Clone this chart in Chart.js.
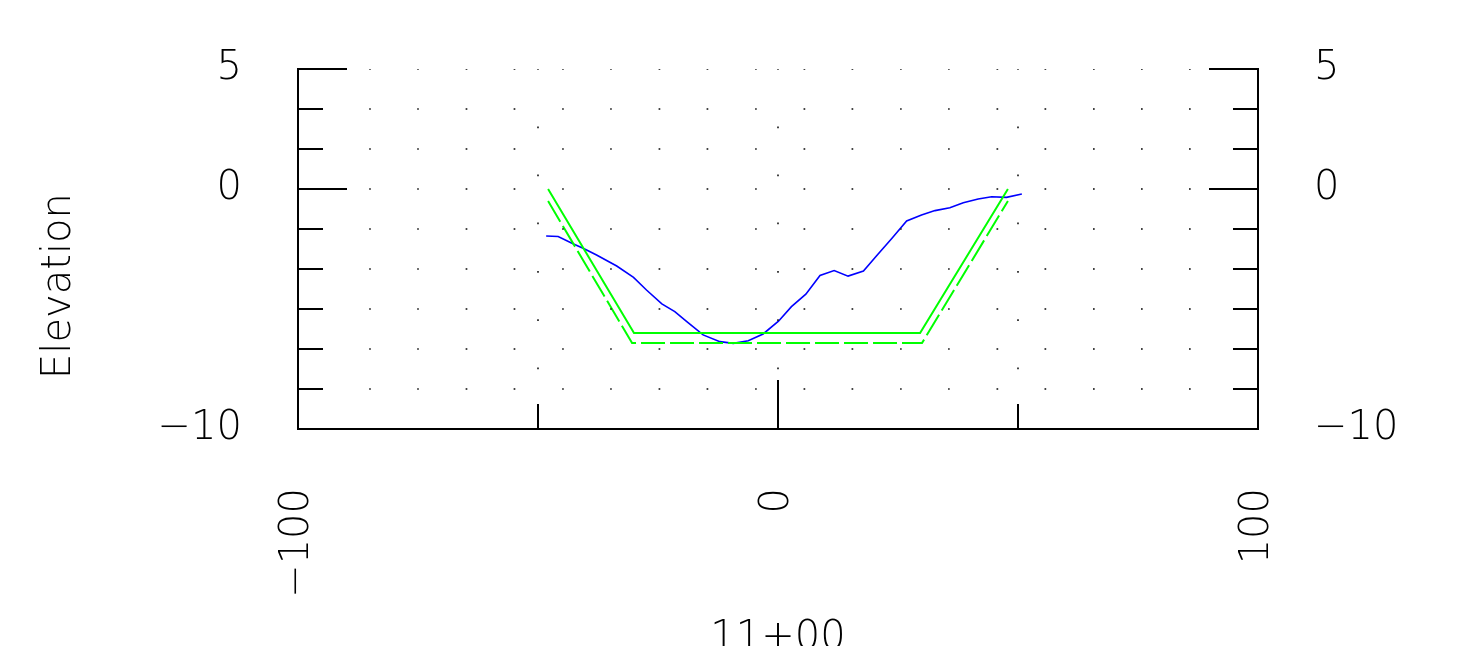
<!DOCTYPE html>
<html><head><meta charset="utf-8">
<script src="https://cdn.jsdelivr.net/npm/chart.js@4"></script>
<style>html,body{margin:0;padding:0;background:#fff;overflow:hidden}#wrap{width:1473px;height:646px;position:relative}</style>
</head><body><div id="wrap"><canvas id="c" width="1473" height="646"></canvas></div>
<script>
// ---- axis ticks ----
const xLabelTicks = [-100, 0, 100];
const xTickMarks = [-50, 0, 50];
const xLongTicks = [0];
const yLabelTicks = [5, 0, -10];
const yTickMarks = [5, 3.333, 1.667, 0, -1.667, -3.333, -5, -6.667, -8.333];
const yLongTicks = [5, 0];

// ---- dotted grid ----
const gridAX = [-85, -75, -64.9, -54.9, -44.8, -34.8, -24.7, -14.7, -4.6, 5.5, 15.5, 25.6, 35.6, 45.7, 55.7, 65.8, 75.8, 85.8];
const gridAY = [5, 3.333, 1.667, 0, -1.667, -3.333, -5, -6.667, -8.333];
const gridBX = [-50, 0, 50];
const gridBY = [5, 2.57, 0.57, -1.43, -3.45, -5.46, -7.47];

// ---- design section (solid green) ----
const designX = [-47.9, -30, 29.6, 47.9];
const designY = [0, -6, -6, 0];
// ---- offset section (dashed green) ----
const offsetX = [-47.9, -30.4, 30.0, 47.9];
const offsetY = [-0.5, -6.42, -6.42, -0.5];
// ---- existing ground (blue) ----
const groundX = [-48.3, -45.8, -42.6, -40.6, -37.8, -33.6, -30.1, -27.4, -24.2, -21.5, -19.0, -15.6, -12.1, -9.3, -6.2, -3.1, 0.1, 2.8, 5.8, 8.75, 11.7, 14.6, 17.8, 20.5, 23.7, 26.8, 29.9, 32.7, 35.8, 38.6, 41.7, 44.5, 47.6, 50.8];
const groundY = [-1.96, -1.98, -2.29, -2.47, -2.75, -3.21, -3.68, -4.21, -4.79, -5.11, -5.53, -6.08, -6.36, -6.43, -6.32, -6.04, -5.51, -4.9, -4.38, -3.6, -3.4, -3.63, -3.42, -2.79, -2.06, -1.33, -1.08, -0.9, -0.78, -0.57, -0.42, -0.32, -0.35, -0.21];

const xTitle = '11+00';
const yTitle = 'Elevation';

const FONT_FAMILY = "'DejaVu Sans', sans-serif";
const FONT = {family: FONT_FAMILY, size: 40, weight: 200};

const zip = (xs, ys) => xs.map((x, i) => ({x, y: ys[i]}));
const gridPts = [];
gridAX.forEach(x => gridAY.forEach(y => gridPts.push({x, y})));
gridBX.forEach(x => gridBY.forEach(y => gridPts.push({x, y})));

const fmt = v => (v < 0 ? '\u2212' + Math.abs(v) : String(v));
const noPad = s => { s.paddingTop = 0; s.paddingBottom = 0; s.paddingLeft = 0; s.paddingRight = 0; };

const framePlugin = {
  id: 'frame',
  afterDatasetsDraw(chart) {
    const {ctx, scales: {x, y}} = chart;
    const L = x.getPixelForValue(-100), R = x.getPixelForValue(100);
    const T = y.getPixelForValue(5), B = y.getPixelForValue(-10);
    ctx.save();
    ctx.strokeStyle = '#000';
    ctx.lineWidth = 2;
    ctx.lineCap = 'square';
    ctx.beginPath();
    ctx.moveTo(L, T); ctx.lineTo(L, B); ctx.lineTo(R, B); ctx.lineTo(R, T);
    yTickMarks.forEach(v => {
      const p = y.getPixelForValue(v);
      const len = yLongTicks.includes(v) ? 48 : 24;
      ctx.moveTo(L, p); ctx.lineTo(L + len, p);
      ctx.moveTo(R, p); ctx.lineTo(R - len, p);
    });
    xTickMarks.forEach(v => {
      const p = x.getPixelForValue(v);
      const len = xLongTicks.includes(v) ? 48 : 24;
      ctx.moveTo(p, B); ctx.lineTo(p, B - len);
    });
    ctx.stroke();
    ctx.restore();
  },
  afterDraw(chart) {
    const {ctx} = chart;
    ctx.save();
    ctx.fillStyle = '#000';
    ctx.font = '200 40px ' + FONT_FAMILY;
    ctx.textAlign = 'center';
    ctx.textBaseline = 'middle';
    ctx.translate(60, 286);
    ctx.rotate(-Math.PI / 2);
    ctx.fillText(yTitle, 0, 0);
    ctx.restore();
  }
};

new Chart(document.getElementById('c'), {
  type: 'scatter',
  data: {
    datasets: [
      {label: 'grid', data: gridPts, pointStyle: 'rect', pointRadius: 1.2, pointBackgroundColor: '#222', pointBorderWidth: 0, showLine: false},
      {label: 'design', data: zip(designX, designY), showLine: true, borderColor: '#00ff00', borderWidth: 2, pointRadius: 0, fill: false, tension: 0},
      {label: 'offset', data: zip(offsetX, offsetY), showLine: true, borderColor: '#00ff00', borderWidth: 2, borderDash: [24, 5], pointRadius: 0, fill: false, tension: 0},
      {label: 'ground', data: zip(groundX, groundY), showLine: true, borderColor: '#0000ff', borderWidth: 1.6, pointRadius: 0, fill: false, tension: 0}
    ]
  },
  options: {
    responsive: false,
    animation: false,
    devicePixelRatio: 1,
    layout: {padding: {top: 69, left: 0, right: 0, bottom: 0}},
    plugins: {legend: {display: false}, tooltip: {enabled: false}, title: {display: false}},
    scales: {
      x: {
        type: 'linear', position: 'bottom', min: -100, max: 100,
        afterBuildTicks: s => { s.ticks = xLabelTicks.map(v => ({value: v})); },
        afterFit: s => { s.height = 217; noPad(s); },
        grid: {display: false, drawTicks: false},
        border: {display: false},
        ticks: {minRotation: 90, maxRotation: 90, padding: 59, color: '#000', font: FONT, callback: fmt, autoSkip: false},
        title: {display: true, text: xTitle, color: '#000', font: {family: FONT_FAMILY, size: 40, weight: 200, lineHeight: 0.6}, padding: {top: 0, bottom: -5}}
      },
      y: {
        type: 'linear', position: 'left', min: -10, max: 5,
        afterBuildTicks: s => { s.ticks = yLabelTicks.map(v => ({value: v})); },
        afterFit: s => { s.width = 298; noPad(s); },
        grid: {display: false, drawTicks: false},
        border: {display: false},
        ticks: {padding: 56, color: '#000', font: FONT, callback: fmt}
      },
      y2: {
        type: 'linear', position: 'right', min: -10, max: 5,
        afterBuildTicks: s => { s.ticks = yLabelTicks.map(v => ({value: v})); },
        afterFit: s => { s.width = 215; noPad(s); },
        grid: {display: false, drawTicks: false},
        border: {display: false},
        ticks: {padding: 56, color: '#000', font: FONT, callback: fmt}
      }
    }
  },
  plugins: [framePlugin]
});
</script>
</body></html>
